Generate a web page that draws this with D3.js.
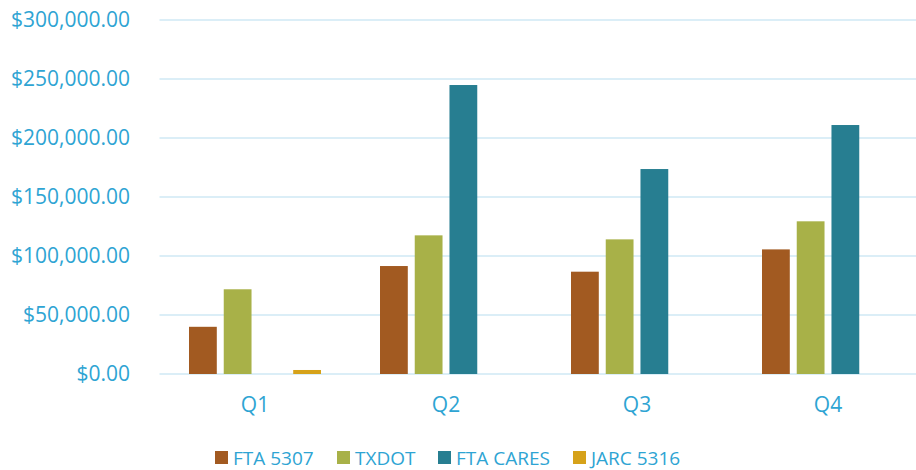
<!DOCTYPE html>
<html>
<head>
<meta charset="utf-8">
<script src="https://cdn.jsdelivr.net/npm/d3@7"></script>
<style>
  body { margin: 0; background: #fff; }
  svg text { font-family: "Open Sans", sans-serif; fill: #2ea4d3; }
</style>
</head>
<body>
<div id="chart"></div>
<script>
(function () {
  // Data
  var quarters = ["Q1", "Q2", "Q3", "Q4"];
  var seriesNames = ["FTA 5307", "TXDOT", "FTA CARES", "JARC 5316"];
  var fta5307 = [40000, 91500, 86700, 105600];
  var txdot = [71800, 117500, 114100, 129400];
  var ftaCares = [0, 244900, 173700, 211000];
  var jarc5316 = [3400, 0, 0, 0];
  var yTicks = [0, 50000, 100000, 150000, 200000, 250000, 300000];

  var colors = ["#a25a21", "#a8b148", "#277e91", "#d6a21a"];
  var values = [fta5307, txdot, ftaCares, jarc5316];

  var W = 916, H = 470;
  var left = 159.5, right = 923.5, top = 20, bottom = 374;

  var svg = d3.select("#chart").append("svg")
    .attr("width", W)
    .attr("height", H);

  var x0 = d3.scaleBand().domain(quarters).range([left, right])
    .paddingInner(0.309).paddingOuter(0.1545);
  var x1 = d3.scaleBand().domain(seriesNames).range([0, x0.bandwidth()])
    .paddingInner(0.2);
  var y = d3.scaleLinear().domain([0, 300000]).range([bottom, top]);

  var fmt = d3.format("$,.2f");

  // Gridlines
  svg.append("g").selectAll("line")
    .data(yTicks)
    .enter().append("line")
    .attr("x1", left).attr("x2", W)
    .attr("y1", function (d) { return y(d); })
    .attr("y2", function (d) { return y(d); })
    .attr("stroke", "#cfe9f5")
    .attr("stroke-width", 1.5);

  // Y labels
  svg.append("g").selectAll("text")
    .data(yTicks)
    .enter().append("text")
    .attr("x", 130)
    .attr("y", function (d) { return y(d); })
    .attr("dy", "0.35em")
    .attr("text-anchor", "end")
    .style("font-size", "21px")
    .text(function (d) { return fmt(d); });

  // Bars
  var groups = svg.append("g").selectAll("g")
    .data(quarters)
    .enter().append("g")
    .attr("transform", function (d) { return "translate(" + x0(d) + ",0)"; });

  groups.selectAll("rect")
    .data(function (q, qi) {
      return seriesNames.map(function (s, si) {
        return { s: s, si: si, v: values[si][qi] };
      });
    })
    .enter().append("rect")
    .filter(function (d) { return d.v > 0; })
    .attr("x", function (d) { return x1(d.s); })
    .attr("width", x1.bandwidth())
    .attr("y", function (d) { return y(d.v); })
    .attr("height", function (d) { return bottom - y(d.v); })
    .attr("fill", function (d) { return colors[d.si]; });

  // Category labels
  svg.append("g").selectAll("text")
    .data(quarters)
    .enter().append("text")
    .attr("x", function (d) { return x0(d) + x0.bandwidth() / 2; })
    .attr("y", 405)
    .attr("dy", "0.35em")
    .attr("text-anchor", "middle")
    .style("font-size", "21px")
    .text(function (d) { return d; });

  // Legend
  var legendX = [215, 337, 438, 573];
  var legend = svg.append("g").selectAll("g")
    .data(seriesNames)
    .enter().append("g")
    .attr("transform", function (d, i) { return "translate(" + legendX[i] + ",451)"; });

  legend.append("rect")
    .attr("width", 13).attr("height", 13)
    .attr("fill", function (d, i) { return colors[i]; });

  legend.append("text")
    .attr("x", 18)
    .attr("y", 7)
    .attr("dy", "0.35em")
    .style("font-size", "19px")
    .text(function (d) { return d; });
})();
</script>
</body>
</html>
